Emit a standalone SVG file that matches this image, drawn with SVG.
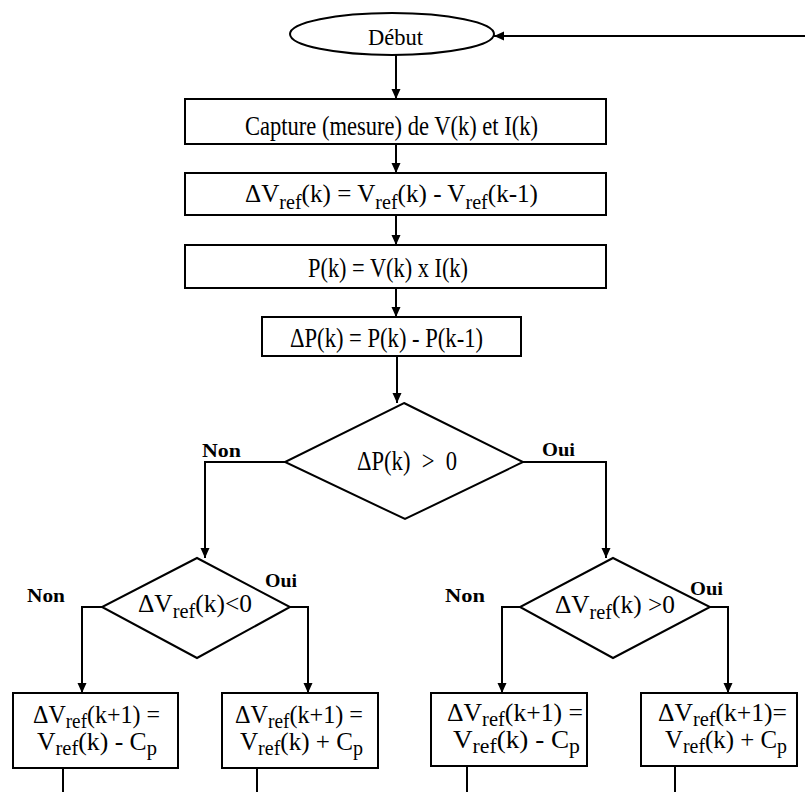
<svg xmlns="http://www.w3.org/2000/svg" width="805" height="792" viewBox="0 0 805 792">
<defs>
<marker id="ah" viewBox="0 0 10 10" refX="10" refY="5" markerWidth="10" markerHeight="10" markerUnits="userSpaceOnUse" orient="auto">
<path d="M0,0.5 L10,5 L0,9.5 Z" fill="#000"/>
</marker>
</defs>
<style>
.s{fill:#fff;stroke:#000;stroke-width:2}
.c{fill:none;stroke:#000;stroke-width:2}
.a{marker-end:url(#ah)}
.t{font-family:"Liberation Serif","Times New Roman",serif;fill:#000}
.l{font-family:"Liberation Serif","Times New Roman",serif;font-weight:bold;font-size:18px;fill:#000}
.sub{font-size:0.8em}
</style>
<rect width="805" height="792" fill="#fff"/>
<g id="connectors">
<line class="c a" x1="805" y1="36" x2="494" y2="36"/>
<line class="c a" x1="396" y1="55" x2="396" y2="99"/>
<line class="c a" x1="396" y1="144" x2="396" y2="173"/>
<line class="c a" x1="396" y1="215" x2="396" y2="245"/>
<line class="c a" x1="396" y1="288" x2="396" y2="317"/>
<line class="c a" x1="397" y1="356" x2="397" y2="403"/>
<polyline class="c a" points="285,462 205,462 205,558"/>
<polyline class="c a" points="523,462 606,462 606,558"/>
<polyline class="c a" points="102,607 82,607 82,693"/>
<polyline class="c a" points="290,607 308,607 308,693"/>
<polyline class="c a" points="520,607 502,607 502,693"/>
<polyline class="c a" points="710,607 728,607 728,693"/>
<line class="c" x1="63" y1="768" x2="63" y2="792"/>
<line class="c" x1="257" y1="768" x2="257" y2="792"/>
<line class="c" x1="467" y1="766" x2="467" y2="792"/>
<line class="c" x1="675" y1="766" x2="675" y2="792"/>
<text class="l" x="202" y="457" textLength="39" lengthAdjust="spacingAndGlyphs">Non</text>
<text class="l" x="542" y="456" textLength="33" lengthAdjust="spacingAndGlyphs">Oui</text>
<text class="l" x="27" y="602" textLength="38" lengthAdjust="spacingAndGlyphs">Non</text>
<text class="l" x="265" y="587" textLength="32" lengthAdjust="spacingAndGlyphs">Oui</text>
<text class="l" x="445" y="602" textLength="40" lengthAdjust="spacingAndGlyphs">Non</text>
<text class="l" x="690" y="595" textLength="33" lengthAdjust="spacingAndGlyphs">Oui</text>
</g>
<g id="debut">
<ellipse class="s" cx="392" cy="34" rx="102" ry="21"/>
<text class="t" x="368" y="45" font-size="23" textLength="55" lengthAdjust="spacingAndGlyphs">Début</text>
</g>
<g id="capture">
<rect class="s" x="185" y="99" width="421" height="45"/>
<text class="t" x="245" y="135" font-size="27" textLength="293" lengthAdjust="spacingAndGlyphs">Capture (mesure) de V(k) et I(k)</text>
</g>
<g id="dvref">
<rect class="s" x="185" y="173" width="421" height="42"/>
<text class="t" x="245" y="202" font-size="26" textLength="293" lengthAdjust="spacingAndGlyphs">ΔV<tspan class="sub" dy="7">ref</tspan><tspan dy="-7">(k) = V</tspan><tspan class="sub" dy="7">ref</tspan><tspan dy="-7">(k) - V</tspan><tspan class="sub" dy="7">ref</tspan><tspan dy="-7">(k-1)</tspan></text>
</g>
<g id="power">
<rect class="s" x="185" y="245" width="421" height="43"/>
<text class="t" x="308" y="277" font-size="28" textLength="160" lengthAdjust="spacingAndGlyphs">P(k) = V(k) x I(k)</text>
</g>
<g id="dpower">
<rect class="s" x="262" y="317" width="259" height="39"/>
<text class="t" x="290" y="347" font-size="28" textLength="193" lengthAdjust="spacingAndGlyphs">ΔP(k) = P(k) - P(k-1)</text>
</g>
<g id="decision1">
<polygon class="s" points="404,403 523,462 405,519 285,462"/>
<text class="t" x="357" y="470" font-size="27" textLength="100" lengthAdjust="spacingAndGlyphs">ΔP(k)&#160; &gt; &#160;0</text>
</g>
<g id="decision2">
<polygon class="s" points="197,558 290,607 197,658 102,607"/>
<text class="t" x="138" y="612" font-size="25" textLength="114" lengthAdjust="spacingAndGlyphs">ΔV<tspan class="sub" dy="6">ref</tspan><tspan dy="-6">(k)&lt;0</tspan></text>
</g>
<g id="decision3">
<polygon class="s" points="613,558 710,607 613,658 520,607"/>
<text class="t" x="555" y="613" font-size="25" textLength="120" lengthAdjust="spacingAndGlyphs">ΔV<tspan class="sub" dy="6">ref</tspan><tspan dy="-6">(k) &gt;0</tspan></text>
</g>
<g id="boxA">
<rect class="s" x="13" y="693" width="165" height="75"/>
<text class="t" x="33" y="723" font-size="25" textLength="127" lengthAdjust="spacingAndGlyphs">ΔV<tspan class="sub" dy="5">ref</tspan><tspan dy="-5">(k+1) =</tspan></text>
<text class="t" x="37" y="750" font-size="25" textLength="120" lengthAdjust="spacingAndGlyphs">V<tspan class="sub" dy="5">ref</tspan><tspan dy="-5">(k) - C</tspan><tspan class="sub" dy="5">p</tspan></text>
</g>
<g id="boxB">
<rect class="s" x="222" y="693" width="156" height="75"/>
<text class="t" x="235" y="723" font-size="25" textLength="128" lengthAdjust="spacingAndGlyphs">ΔV<tspan class="sub" dy="5">ref</tspan><tspan dy="-5">(k+1) =</tspan></text>
<text class="t" x="240" y="750" font-size="25" textLength="123" lengthAdjust="spacingAndGlyphs">V<tspan class="sub" dy="5">ref</tspan><tspan dy="-5">(k) + C</tspan><tspan class="sub" dy="5">p</tspan></text>
</g>
<g id="boxC">
<rect class="s" x="431" y="693" width="156" height="73"/>
<text class="t" x="447" y="721" font-size="25" textLength="136" lengthAdjust="spacingAndGlyphs">ΔV<tspan class="sub" dy="5">ref</tspan><tspan dy="-5">(k+1) =</tspan></text>
<text class="t" x="453" y="748" font-size="25" textLength="127" lengthAdjust="spacingAndGlyphs">V<tspan class="sub" dy="5">ref</tspan><tspan dy="-5">(k) - C</tspan><tspan class="sub" dy="5">p</tspan></text>
</g>
<g id="boxD">
<rect class="s" x="641" y="693" width="156" height="73"/>
<text class="t" x="658" y="721" font-size="25" textLength="129" lengthAdjust="spacingAndGlyphs">ΔV<tspan class="sub" dy="5">ref</tspan><tspan dy="-5">(k+1)=</tspan></text>
<text class="t" x="665" y="748" font-size="25" textLength="122" lengthAdjust="spacingAndGlyphs">V<tspan class="sub" dy="5">ref</tspan><tspan dy="-5">(k) + C</tspan><tspan class="sub" dy="5">p</tspan></text>
</g>
</svg>
